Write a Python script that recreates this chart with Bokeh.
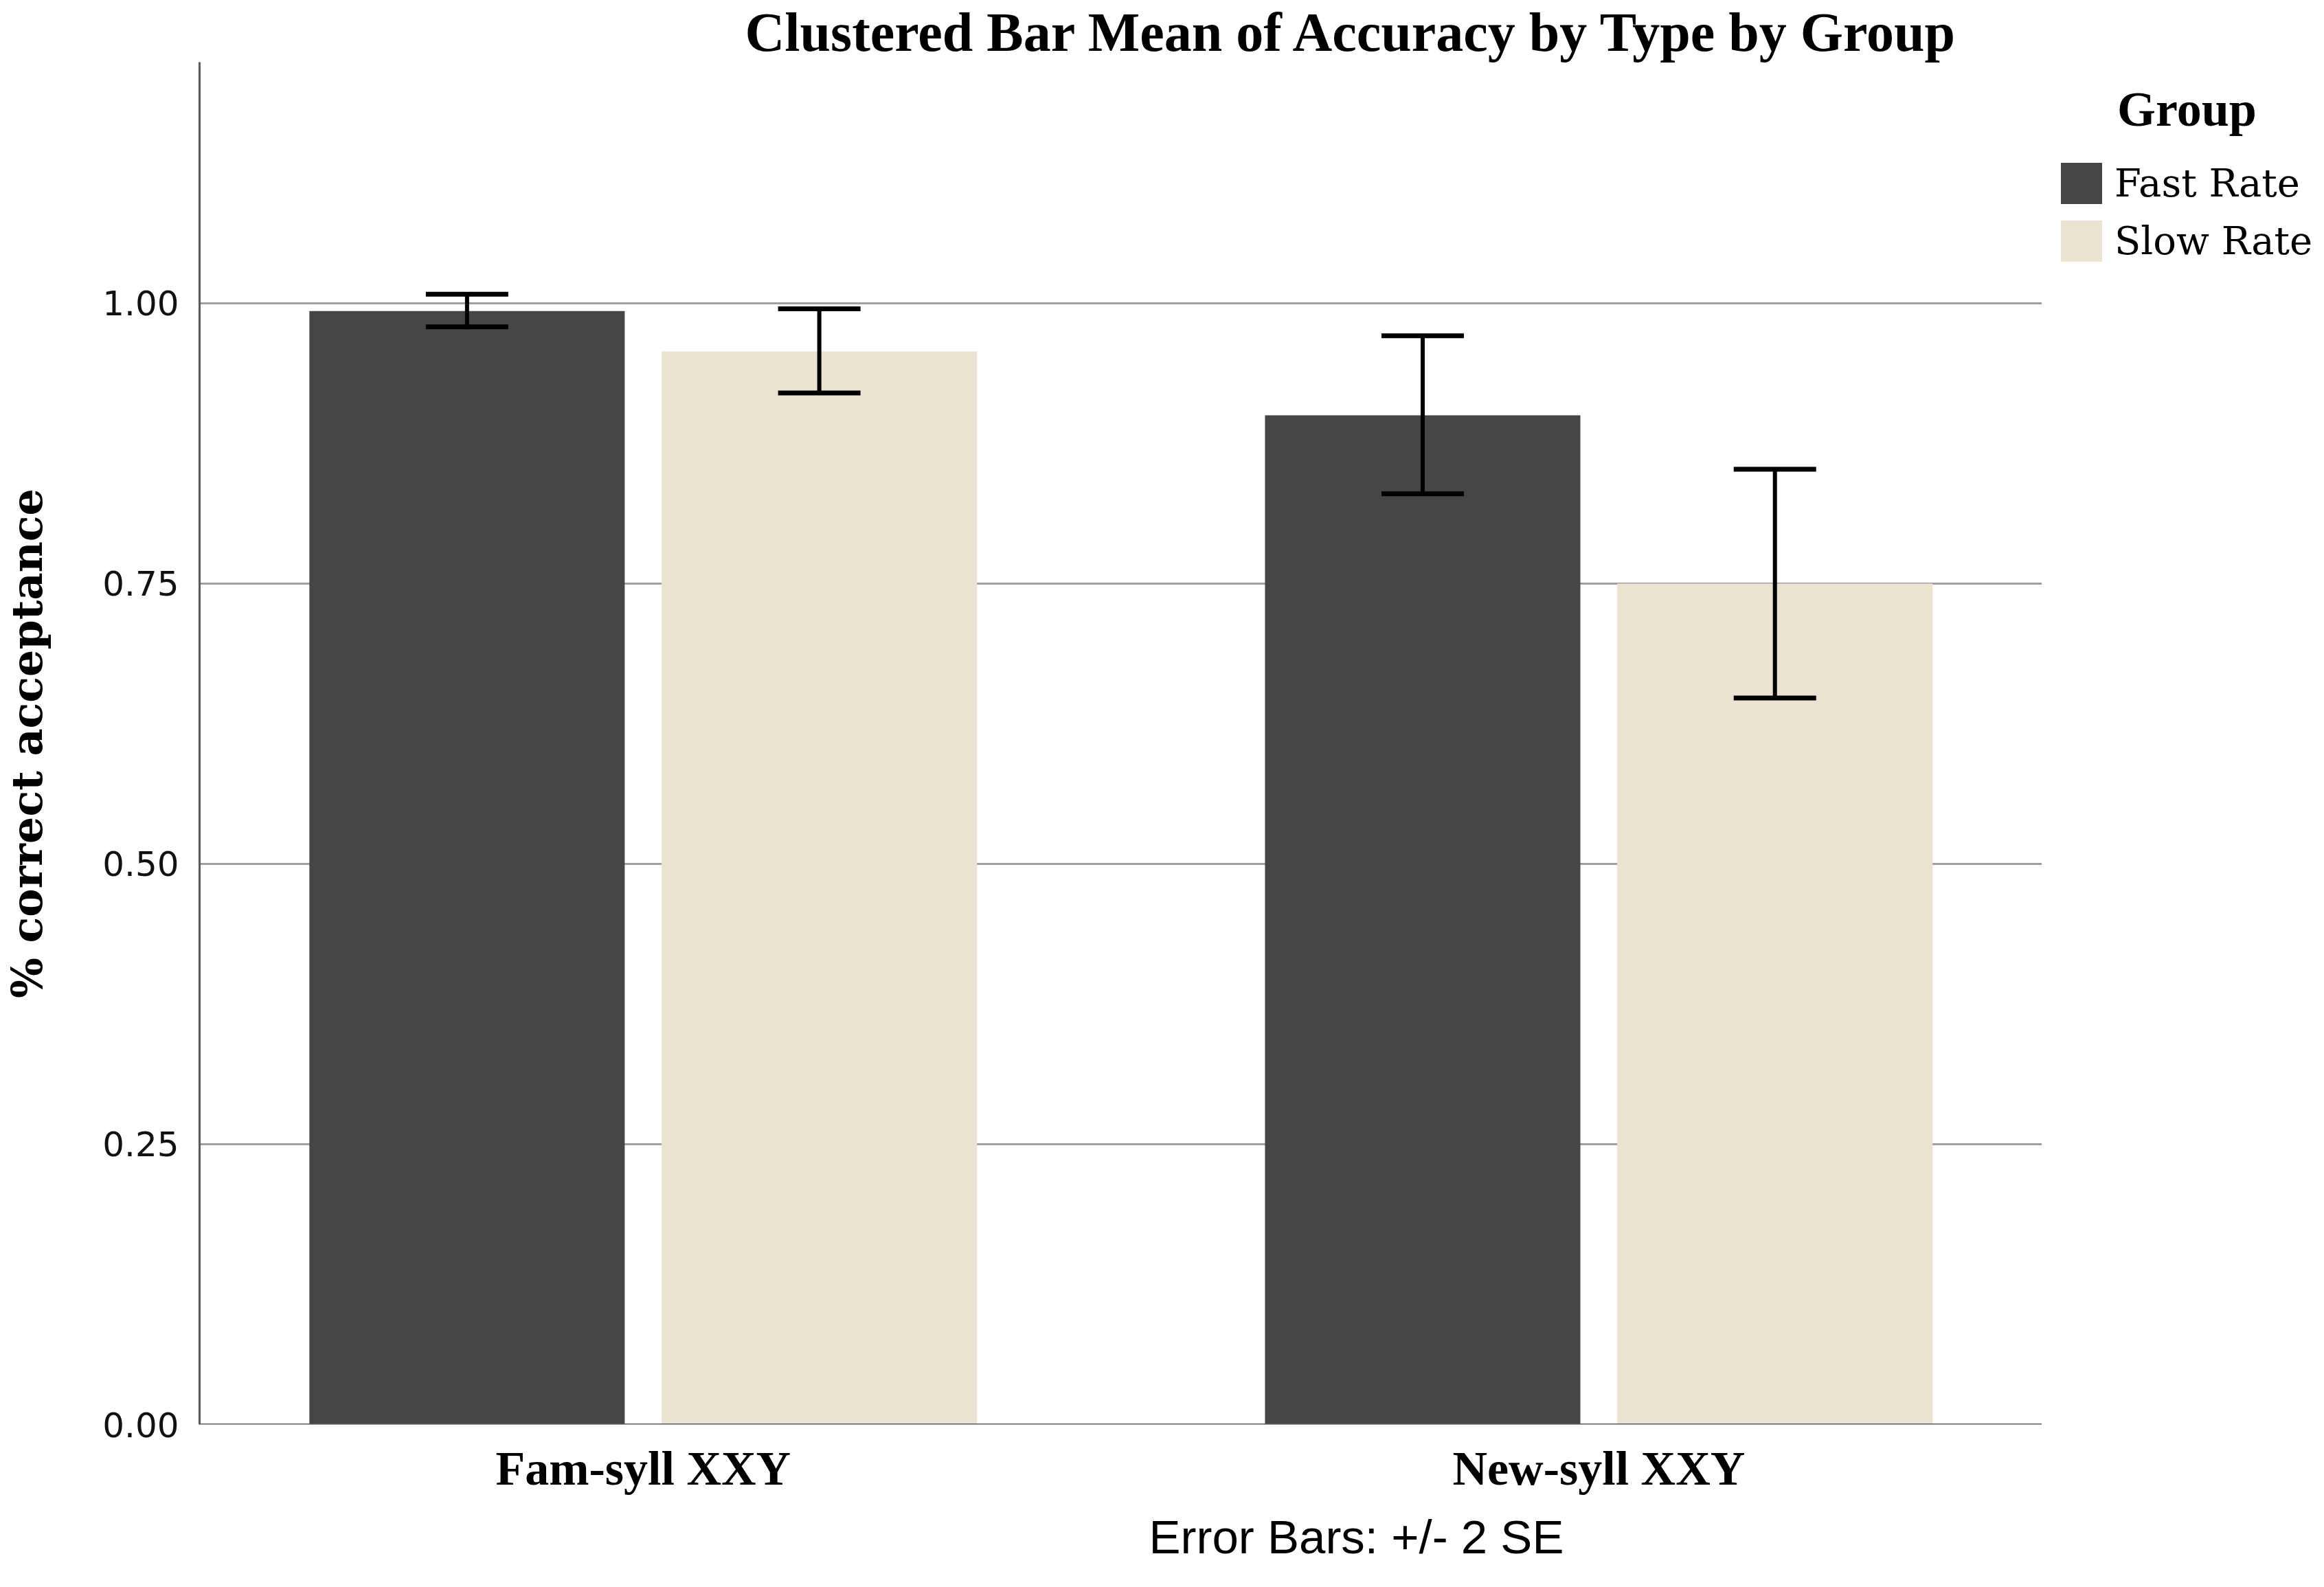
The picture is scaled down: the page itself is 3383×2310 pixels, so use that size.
from bokeh.plotting import figure
from bokeh.models import (ColumnDataSource, Range1d, Whisker, TeeHead,
                          Legend, LegendItem, Title, FixedTicker, PrintfTickFormatter)
from bokeh.embed import file_html
from bokeh.resources import INLINE

# ---- data ----
types = ["Fam-syll XXY", "New-syll XXY"]
groups = ["Fast Rate", "Slow Rate"]
fast_mean = [0.993, 0.900]
fast_upper = [1.008, 0.971]
fast_lower = [0.979, 0.830]
slow_mean = [0.957, 0.750]
slow_upper = [0.995, 0.852]
slow_lower = [0.920, 0.648]
y_ticks = [0.0, 0.25, 0.5, 0.75, 1.0]
title_text = "Clustered Bar Mean of Accuracy by Type by Group"
y_label = "% correct acceptance"
footnote = "Error Bars: +/- 2 SE"
legend_title = "Group"
colors = ["#454648", "#E9E3CF"]

# category positions on the x scale (one unit apart) and layout constants
cat_pos = [i + 1 for i in range(len(types))]
offset = 0.1843
bar_w = 0.33
x_start, x_end = 0.5358, 2.747      # plotting canvas (legend lives at the right)
axis_end = 2.4635                   # where grid lines / baseline stop

W, H = 3366, 2302
p = figure(x_range=Range1d(x_start, x_end), y_range=Range1d(0, 1.215),
           width=W, height=H, output_backend="svg", toolbar_location=None,
           min_border_left=277, min_border_right=0, min_border_top=89,
           min_border_bottom=229)
p.background_fill_color = "white"
p.border_fill_color = "white"
p.outline_line_color = None
p.xgrid.grid_line_color = None
p.ygrid.grid_line_color = None

# horizontal grid lines limited to the chart area
grid_src = ColumnDataSource(dict(y=y_ticks[1:], x0=[x_start] * (len(y_ticks) - 1),
                                 x1=[axis_end] * (len(y_ticks) - 1)))
p.segment(x0="x0", x1="x1", y0="y", y1="y", source=grid_src,
          line_color="#a0a0a0", line_width=3)

p.yaxis.ticker = FixedTicker(ticks=y_ticks)
p.yaxis.formatter = PrintfTickFormatter(format="%.2f")
p.xaxis.ticker = FixedTicker(ticks=cat_pos)
p.xaxis.major_label_overrides = {c: t for c, t in zip(cat_pos, types)}
for ax in (p.xaxis[0], p.yaxis[0]):
    ax.axis_line_color = "#5a5a5a"
    ax.axis_line_width = 3
    ax.major_tick_line_color = None
    ax.minor_tick_line_color = None
    ax.major_tick_out = 0
    ax.major_tick_in = 0
p.xaxis.axis_line_color = None

p.yaxis.major_label_text_font = "DejaVu Sans"
p.yaxis.major_label_text_font_size = "50px"
p.yaxis.major_label_text_color = "#111111"
p.yaxis.major_label_standoff = 30
p.yaxis.axis_label = y_label
p.yaxis.axis_label_text_font = "DejaVu Serif"
p.yaxis.axis_label_text_font_style = "bold"
p.yaxis.axis_label_text_font_size = "62px"
p.yaxis.axis_label_text_color = "black"
p.yaxis.axis_label_standoff = 70

p.xaxis.major_label_text_font = "Liberation Serif"
p.xaxis.major_label_text_font_style = "bold"
p.xaxis.major_label_text_font_size = "70px"
p.xaxis.major_label_text_color = "black"
p.xaxis.major_label_standoff = 25

src_fast = ColumnDataSource(dict(x=[c - offset for c in cat_pos], mean=fast_mean,
                                 upper=fast_upper, lower=fast_lower))
src_slow = ColumnDataSource(dict(x=[c + offset for c in cat_pos], mean=slow_mean,
                                 upper=slow_upper, lower=slow_lower))

r_fast = p.vbar(x="x", top="mean", width=bar_w, source=src_fast,
                fill_color=colors[0], line_color=None)
r_slow = p.vbar(x="x", top="mean", width=bar_w, source=src_slow,
                fill_color=colors[1], line_color=None)

# x baseline (axis line) limited to the chart area
base_src = ColumnDataSource(dict(y=[0.0], x0=[x_start], x1=[axis_end]))
p.segment(x0="x0", x1="x1", y0="y", y1="y", source=base_src,
          line_color="#5a5a5a", line_width=3)

for src in (src_fast, src_slow):
    w = Whisker(base="x", upper="upper", lower="lower",
                source=src, line_color="black", line_width=6, level="annotation",
                upper_head=TeeHead(size=120, line_width=7, line_color="black"),
                lower_head=TeeHead(size=120, line_width=7, line_color="black"))
    p.add_layout(w)

legend = Legend(items=[LegendItem(label=groups[0], renderers=[r_fast]),
                       LegendItem(label=groups[1], renderers=[r_slow])],
                location=(2702, 1685), padding=0, margin=0, spacing=9,
                glyph_width=75, glyph_height=75, label_standoff=11, label_height=60,
                label_text_font="DejaVu Serif", label_text_font_size="56px",
                label_text_color="black",
                title="\u00a0" * 5 + legend_title, title_text_font="Liberation Serif",
                title_text_font_style="bold", title_text_font_size="72px",
                title_text_color="black", title_standoff=28,
                border_line_color=None, background_fill_alpha=0)
p.add_layout(legend)

p.add_layout(Title(text=title_text, align="left", offset=794,
                   text_font="Liberation Serif", text_font_style="bold",
                   text_font_size="80px", text_color="black", standoff=0), "above")
p.add_layout(Title(text=footnote, align="left", offset=1382,
                   text_font="Liberation Sans", text_font_style="normal",
                   text_font_size="69px", text_color="black", standoff=36), "below")

open("out.html", "w").write(file_html(p, INLINE))
